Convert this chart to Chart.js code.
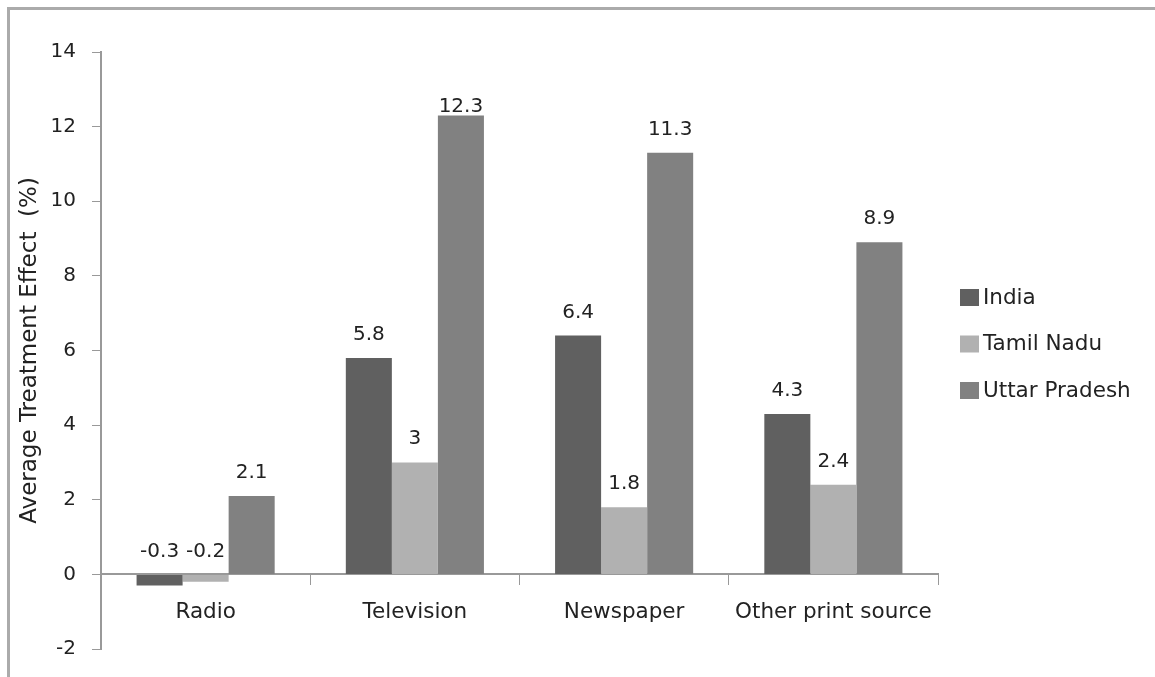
<!DOCTYPE html>
<html>
<head>
<meta charset="utf-8">
<script src="https://cdn.jsdelivr.net/npm/chart.js@4.4.1/dist/chart.umd.min.js"></script>
<style>
  html, body { margin: 0; padding: 0; background: #fff; }
  #wrap { position: relative; width: 1155px; height: 677px; overflow: hidden; }
  #frame { position: absolute; left: 7px; top: 7px; width: 1300px; height: 800px;
           border-left: 3px solid #ababab; border-top: 3px solid #ababab; }
  #chart { position: absolute; left: 0; top: 0; }
</style>
</head>
<body>
<div id="wrap">
  <div id="frame"></div>
  <canvas id="chart" width="1155" height="677"></canvas>
</div>
<script>
  // 資料
  var categories = ['Radio', 'Television', 'Newspaper', 'Other print source'];
  var india = [-0.3, 5.8, 6.4, 4.3];
  var tamilNadu = [-0.2, 3, 1.8, 2.4];
  var uttarPradesh = [2.1, 12.3, 11.3, 8.9];
  var yTicks = [-2, 0, 2, 4, 6, 8, 10, 12, 14];

  var FONT = '"DejaVu Sans", Verdana, sans-serif';

  // 柱頂數值標籤
  var valueLabels = {
    id: 'valueLabels',
    afterDatasetsDraw: function(chart) {
      var ctx = chart.ctx;
      var top = chart.chartArea.top;
      ctx.save();
      ctx.font = '20px ' + FONT;
      ctx.fillStyle = '#222';
      ctx.textAlign = 'center';
      ctx.textBaseline = 'alphabetic';
      chart.data.datasets.forEach(function(ds, i) {
        var meta = chart.getDatasetMeta(i);
        meta.data.forEach(function(bar, j) {
          var y = Math.min(bar.y, bar.base) - 18;
          y = Math.max(y, top + 60);
          ctx.fillText(String(ds.data[j]), bar.x, y);
        });
      });
      ctx.restore();
    }
  };

  // 右側圖例
  var sideLegend = {
    id: 'sideLegend',
    afterDraw: function(chart) {
      var ctx = chart.ctx;
      var x = chart.chartArea.right + 22;
      var y = 289;
      ctx.save();
      ctx.font = '21.5px ' + FONT;
      ctx.textBaseline = 'middle';
      ctx.textAlign = 'left';
      chart.data.datasets.forEach(function(ds) {
        ctx.fillStyle = ds.backgroundColor;
        ctx.fillRect(x, y, 19, 17);
        ctx.fillStyle = '#222';
        ctx.fillText(ds.label, x + 23, y + 9);
        y += 46.5;
      });
      ctx.restore();
    }
  };

  var ctx = document.getElementById('chart').getContext('2d');
  new Chart(ctx, {
    type: 'bar',
    data: {
      labels: categories,
      datasets: [
        { label: 'India', data: india, backgroundColor: '#606060' },
        { label: 'Tamil Nadu', data: tamilNadu, backgroundColor: '#b1b1b1' },
        { label: 'Uttar Pradesh', data: uttarPradesh, backgroundColor: '#818181' }
      ]
    },
    options: {
      responsive: false,
      animation: false,
      devicePixelRatio: 1,
      datasets: { bar: { categoryPercentage: 0.66, barPercentage: 1.0 } },
      layout: { padding: { left: 8, top: 52, right: 217, bottom: 16 } },
      plugins: {
        legend: { display: false },
        tooltip: { enabled: false }
      },
      scales: {
        x: {
          position: { y: 0 },
          grid: { drawOnChartArea: false, drawTicks: true, tickLength: 10, color: '#999', offset: true },
          border: { color: '#999', width: 2 },
          ticks: { color: '#222', font: { family: FONT, size: 21.5 }, padding: 15, maxRotation: 0 }
        },
        y: {
          min: -2,
          max: 14,
          afterBuildTicks: function(scale) {
            scale.ticks = yTicks.map(function(v) { return { value: v }; });
          },
          afterFit: function(scale) { scale.width = 93; },
          grid: { drawOnChartArea: false, drawTicks: true, tickLength: 9, color: '#999' },
          border: { color: '#999', width: 2 },
          ticks: { color: '#222', font: { family: FONT, size: 20 }, padding: 16 },
          title: {
            display: true,
            text: 'Average Treatment Effect  (%)',
            color: '#222',
            font: { family: FONT, size: 23 },
            padding: { top: 8, bottom: 0 }
          }
        }
      }
    },
    plugins: [valueLabels, sideLegend]
  });
</script>
</body>
</html>
